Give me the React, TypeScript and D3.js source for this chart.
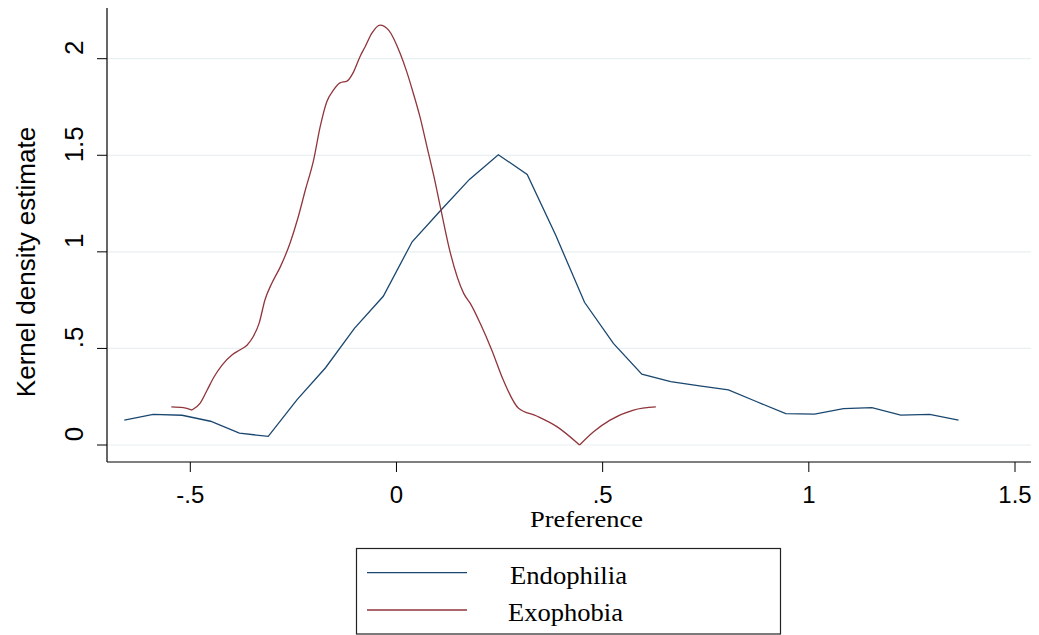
import React from "react";
import * as d3 from "d3";

const endoX = [-0.660, -0.590, -0.520, -0.451, -0.381, -0.311, -0.241, -0.172, -0.102, -0.032, 0.038, 0.107, 0.177, 0.247, 0.317, 0.386, 0.456, 0.526, 0.595, 0.665, 0.735, 0.805, 0.874, 0.944, 1.014, 1.084, 1.153, 1.223, 1.293, 1.363];
const endoY = [0.129, 0.159, 0.154, 0.123, 0.061, 0.045, 0.235, 0.400, 0.604, 0.770, 1.052, 1.214, 1.375, 1.503, 1.401, 1.087, 0.739, 0.526, 0.367, 0.328, 0.306, 0.285, 0.224, 0.162, 0.160, 0.188, 0.193, 0.155, 0.159, 0.129];

const exoX = [-0.546, -0.517, -0.496, -0.476, -0.459, -0.444, -0.423, -0.399, -0.379, -0.362, -0.348, -0.333, -0.319, -0.302, -0.282, -0.258, -0.239, -0.221, -0.201, -0.185, -0.169, -0.153, -0.137, -0.120, -0.104, -0.088, -0.076, -0.060, -0.040, -0.019, 0.009, 0.025, 0.041, 0.057, 0.074, 0.090, 0.108, 0.130, 0.163, 0.179, 0.203, 0.231, 0.259, 0.296, 0.340, 0.389, 0.444, 0.478, 0.518, 0.575, 0.629];
const exoY = [0.197, 0.193, 0.181, 0.217, 0.285, 0.347, 0.414, 0.466, 0.493, 0.518, 0.559, 0.631, 0.751, 0.839, 0.921, 1.046, 1.175, 1.320, 1.475, 1.648, 1.777, 1.837, 1.875, 1.884, 1.932, 2.013, 2.062, 2.131, 2.174, 2.148, 2.027, 1.932, 1.820, 1.699, 1.544, 1.398, 1.216, 1.000, 0.785, 0.733, 0.630, 0.492, 0.336, 0.190, 0.150, 0.095, 0.000, 0.069, 0.129, 0.181, 0.197];
// indices of sharp corners in the Exophobia curve (kept as corners)
const exoCorners = [2, 46];

const xTicks = [-0.5, 0, 0.5, 1, 1.5];
const xTickLabels = ["-.5", "0", ".5", "1", "1.5"];
const yTicks = [0, 0.5, 1, 1.5, 2];
const yTickLabels = ["0", ".5", "1", "1.5", "2"];

const seriesNames = ["Endophilia", "Exophobia"];
const seriesColors = ["#1a476f", "#90353b"];

export default function App() {
  const W = 1039, H = 635;
  const left = 107, right = 1031, top = 8, bottom = 462;
  const x = d3.scaleLinear().domain([-0.5, 1.5]).range([190.3, 1015]);
  const y = d3.scaleLinear().domain([0, 2]).range([445, 58.7]);

  const lineLin = d3.line<[number, number]>().x((d) => x(d[0])).y((d) => y(d[1]));
  const lineSmooth = d3.line<[number, number]>().x((d) => x(d[0])).y((d) => y(d[1])).curve(d3.curveMonotoneX);
  const endo: [number, number][] = endoX.map((v, i) => [v, endoY[i]]);
  const exo: [number, number][] = exoX.map((v, i) => [v, exoY[i]]);
  const cuts = [0, ...exoCorners, exo.length - 1];
  const exoSegments = cuts.slice(0, -1).map((c, k) => exo.slice(c, cuts[k + 1] + 1));
  const exoPath = exoSegments.map((s) => lineSmooth(s) || "").join("");
  const sans = "'Liberation Sans', Arial, sans-serif";
  const serif = "'Liberation Serif', 'Times New Roman', serif";
  const legendLens = [117, 115];

  return (
    <svg width={W} height={H} style={{ position: "absolute", left: 0, top: 0, background: "#fff" }}>
      <rect x={0} y={0} width={W} height={H} fill="#fff" />
      {yTicks.map((t) => (
        <line key={"g" + t} x1={left} x2={right} y1={y(t)} y2={y(t)} stroke="#e8f0f1" strokeWidth={1.2} />
      ))}
      <path d={lineLin(endo) || ""} fill="none" stroke={seriesColors[0]} strokeWidth={1.3} />
      <path d={exoPath} fill="none" stroke={seriesColors[1]} strokeWidth={1.3} strokeLinejoin="miter" />
      <line x1={left} x2={left} y1={top} y2={bottom} stroke="#000" strokeWidth={1.2} />
      <line x1={left} x2={right} y1={bottom} y2={bottom} stroke="#000" strokeWidth={1.2} />
      {yTicks.map((t, i) => (
        <g key={"yt" + t}>
          <line x1={left - 10} x2={left} y1={y(t)} y2={y(t)} stroke="#000" strokeWidth={1} />
          <text transform={`translate(83,${y(t) - 11}) rotate(-90)`} textAnchor="middle" fontFamily={sans} fontSize={26}>
            {yTickLabels[i]}
          </text>
        </g>
      ))}
      {xTicks.map((t, i) => (
        <g key={"xt" + t}>
          <line x1={x(t)} x2={x(t)} y1={bottom} y2={bottom + 10} stroke="#000" strokeWidth={1} />
          <text x={x(t)} y={502.7} textAnchor="middle" fontFamily={sans} fontSize={24}>
            {xTickLabels[i]}
          </text>
        </g>
      ))}
      <text transform={`translate(35,262) rotate(-90)`} textAnchor="middle" fontFamily={sans} fontSize={26}>
        Kernel density estimate
      </text>
      <text x={530} y={526.7} fontFamily={serif} fontSize={23} textLength={113} lengthAdjust="spacingAndGlyphs">
        Preference
      </text>
      <rect x={356.5} y={548.5} width={424} height={85.5} fill="#fff" stroke="#222" strokeWidth={1.2} />
      {seriesNames.map((n, i) => (
        <g key={n}>
          <line x1={367} x2={467} y1={572.7 + i * 37.3} y2={572.7 + i * 37.3} stroke={seriesColors[i]} strokeWidth={1.3} />
          <text x={i === 0 ? 510 : 508} y={583.5 + i * 37} fontFamily={serif} fontSize={26} textLength={legendLens[i]} lengthAdjust="spacingAndGlyphs">
            {n}
          </text>
        </g>
      ))}
    </svg>
  );
}
